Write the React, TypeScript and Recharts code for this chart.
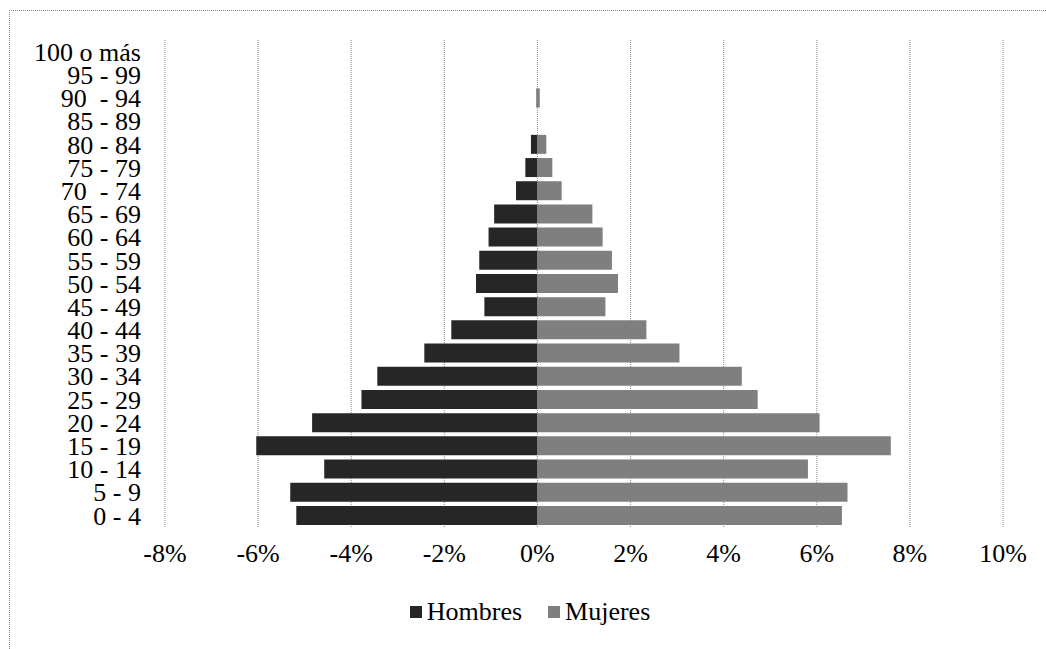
import React from 'react';
import { BarChart, Bar, XAxis, YAxis, CartesianGrid, Legend } from 'recharts';

const ageGroups = ['0 - 4', '5 - 9', '10 - 14', '15 - 19', '20 - 24', '25 - 29', '30 - 34', '35 - 39', '40 - 44', '45 - 49', '50 - 54', '55 - 59', '60 - 64', '65 - 69', '70\u00A0 - 74', '75 - 79', '80 - 84', '85 - 89', '90\u00A0 - 94', '95 - 99', '100 o más'];
const hombres = [-5.18, -5.31, -4.58, -6.04, -4.84, -3.78, -3.44, -2.43, -1.85, -1.14, -1.32, -1.25, -1.05, -0.93, -0.46, -0.26, -0.14, 0, -0.02, 0, 0];
const mujeres = [6.54, 6.66, 5.81, 7.59, 6.06, 4.73, 4.39, 3.05, 2.34, 1.46, 1.73, 1.6, 1.4, 1.18, 0.52, 0.32, 0.19, 0, 0.05, 0, 0];
const xTicks = [-8, -6, -4, -2, 0, 2, 4, 6, 8, 10];

const data = ageGroups.map((age, i) => ({ age, Hombres: hombres[i], Mujeres: mujeres[i] }));

const FONT = '"Liberation Serif", "Times New Roman", serif';
const MALE = '#262626';
const FEMALE = '#7f7f7f';

const LegendContent = () => (
  <div style={{ display: 'flex', justifyContent: 'center', alignItems: 'center', fontFamily: FONT, fontSize: 26, color: '#000', height: 30, paddingLeft: 14 }}>
    <span style={{ display: 'inline-block', width: 12, height: 12, background: MALE, marginRight: 5 }} />
    <span style={{ marginRight: 26 }}>Hombres</span>
    <span style={{ display: 'inline-block', width: 12, height: 12, background: FEMALE, marginRight: 5 }} />
    <span>Mujeres</span>
  </div>
);

export default function App() {
  return (
    <div style={{ position: 'absolute', left: 0, top: 0, width: 1046, height: 649, overflow: 'hidden', background: '#fff' }}>
      <div style={{ position: 'absolute', left: 9, top: 10, width: 1100, height: 700, borderTop: '1px dotted #888', borderLeft: '1px dotted #888' }} />
      <BarChart
        width={1046}
        height={649}
        data={data}
        layout="vertical"
        stackOffset="sign"
        barCategoryGap="9%"
        margin={{ top: 40, right: 43, left: 0, bottom: 52 }}
        style={{ position: 'absolute', left: 0, top: 0 }}
      >
        <CartesianGrid horizontal={false} vertical={true} stroke="#8a8a8a" strokeDasharray="1 1" />
        <XAxis
          type="number"
          domain={[-8, 10]}
          ticks={xTicks}
          tickFormatter={(v: number) => `${v}%`}
          axisLine={false}
          tickLine={false}
          tickSize={0}
          tickMargin={17}
          height={30}
          tick={{ fontFamily: FONT, fontSize: 26, fill: '#000' }}
          interval={0}
        />
        <YAxis
          type="category"
          dataKey="age"
          reversed
          width={165}
          axisLine={false}
          tickLine={false}
          tickSize={0}
          tickMargin={24}
          interval={0}
          tick={{ fontFamily: FONT, fontSize: 26, fill: '#000' }}
        />
        <Legend
          verticalAlign="bottom"
          height={40}
          content={<LegendContent />}
          wrapperStyle={{ top: 597, bottom: 'auto', left: 0, width: 1046 }}
        />
        <Bar dataKey="Hombres" stackId="a" fill={MALE} isAnimationActive={false} />
        <Bar dataKey="Mujeres" stackId="a" fill={FEMALE} isAnimationActive={false} />
      </BarChart>
    </div>
  );
}
